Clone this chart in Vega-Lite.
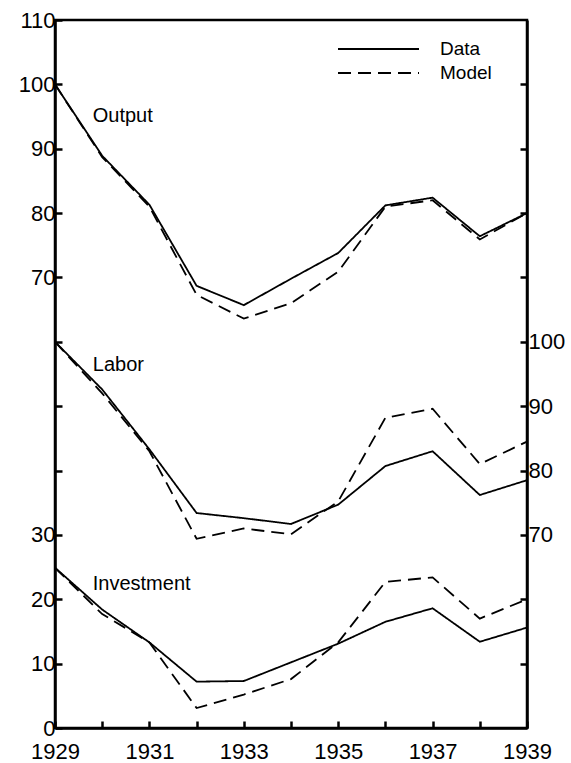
{
  "$schema": "https://vega.github.io/schema/vega-lite/v6.json",
  "autosize": {"type": "none"},
  "padding": {"left": 55, "top": 20, "right": 44, "bottom": 35},
  "width": 472,
  "height": 708,
  "background": "white",
  "config": {
    "view": {"stroke": "black", "strokeWidth": 2.5},
    "font": "Liberation Sans",
    "axis": {
      "grid": false,
      "domainColor": "black",
      "domainWidth": 2.5,
      "tickColor": "black",
      "tickWidth": 2.5,
      "tickSize": -7,
      "labelColor": "black",
      "labelFont": "Liberation Sans",
      "labelFontSize": 22,
      "title": null
    }
  },
  "datasets": {
    "series": [
      {"series": "Output", "type": "Data", "year": 1929, "value": 100},
      {"series": "Output", "type": "Data", "year": 1930, "value": 88.9},
      {"series": "Output", "type": "Data", "year": 1931, "value": 81.3},
      {"series": "Output", "type": "Data", "year": 1932, "value": 68.7},
      {"series": "Output", "type": "Data", "year": 1933, "value": 65.7},
      {"series": "Output", "type": "Data", "year": 1934, "value": 69.8},
      {"series": "Output", "type": "Data", "year": 1935, "value": 73.8},
      {"series": "Output", "type": "Data", "year": 1936, "value": 81.2},
      {"series": "Output", "type": "Data", "year": 1937, "value": 82.4},
      {"series": "Output", "type": "Data", "year": 1938, "value": 76.4},
      {"series": "Output", "type": "Data", "year": 1939, "value": 80.0},
      {"series": "Output", "type": "Model", "year": 1929, "value": 100},
      {"series": "Output", "type": "Model", "year": 1930, "value": 88.7},
      {"series": "Output", "type": "Model", "year": 1931, "value": 81.0},
      {"series": "Output", "type": "Model", "year": 1932, "value": 67.3},
      {"series": "Output", "type": "Model", "year": 1933, "value": 63.6},
      {"series": "Output", "type": "Model", "year": 1934, "value": 66.0},
      {"series": "Output", "type": "Model", "year": 1935, "value": 70.9},
      {"series": "Output", "type": "Model", "year": 1936, "value": 81.0},
      {"series": "Output", "type": "Model", "year": 1937, "value": 82.0},
      {"series": "Output", "type": "Model", "year": 1938, "value": 75.9},
      {"series": "Output", "type": "Model", "year": 1939, "value": 80.0},
      {"series": "Labor", "type": "Data", "year": 1929, "value": 100},
      {"series": "Labor", "type": "Data", "year": 1930, "value": 92.6},
      {"series": "Labor", "type": "Data", "year": 1931, "value": 83.3},
      {"series": "Labor", "type": "Data", "year": 1932, "value": 73.4},
      {"series": "Labor", "type": "Data", "year": 1933, "value": 72.6},
      {"series": "Labor", "type": "Data", "year": 1934, "value": 71.7},
      {"series": "Labor", "type": "Data", "year": 1935, "value": 74.7},
      {"series": "Labor", "type": "Data", "year": 1936, "value": 80.7},
      {"series": "Labor", "type": "Data", "year": 1937, "value": 83.0},
      {"series": "Labor", "type": "Data", "year": 1938, "value": 76.2},
      {"series": "Labor", "type": "Data", "year": 1939, "value": 78.5},
      {"series": "Labor", "type": "Model", "year": 1929, "value": 100},
      {"series": "Labor", "type": "Model", "year": 1930, "value": 92.0},
      {"series": "Labor", "type": "Model", "year": 1931, "value": 83.0},
      {"series": "Labor", "type": "Model", "year": 1932, "value": 69.4},
      {"series": "Labor", "type": "Model", "year": 1933, "value": 71.0},
      {"series": "Labor", "type": "Model", "year": 1934, "value": 70.1},
      {"series": "Labor", "type": "Model", "year": 1935, "value": 75.2},
      {"series": "Labor", "type": "Model", "year": 1936, "value": 88.2},
      {"series": "Labor", "type": "Model", "year": 1937, "value": 89.6},
      {"series": "Labor", "type": "Model", "year": 1938, "value": 81.0},
      {"series": "Labor", "type": "Model", "year": 1939, "value": 84.5},
      {"series": "Investment", "type": "Data", "year": 1929, "value": 24.9},
      {"series": "Investment", "type": "Data", "year": 1930, "value": 18.4},
      {"series": "Investment", "type": "Data", "year": 1931, "value": 13.3},
      {"series": "Investment", "type": "Data", "year": 1932, "value": 7.2},
      {"series": "Investment", "type": "Data", "year": 1933, "value": 7.3},
      {"series": "Investment", "type": "Data", "year": 1934, "value": 10.2},
      {"series": "Investment", "type": "Data", "year": 1935, "value": 13.1},
      {"series": "Investment", "type": "Data", "year": 1936, "value": 16.5},
      {"series": "Investment", "type": "Data", "year": 1937, "value": 18.6},
      {"series": "Investment", "type": "Data", "year": 1938, "value": 13.4},
      {"series": "Investment", "type": "Data", "year": 1939, "value": 15.6},
      {"series": "Investment", "type": "Model", "year": 1929, "value": 24.9},
      {"series": "Investment", "type": "Model", "year": 1930, "value": 17.7},
      {"series": "Investment", "type": "Model", "year": 1931, "value": 13.3},
      {"series": "Investment", "type": "Model", "year": 1932, "value": 3.1},
      {"series": "Investment", "type": "Model", "year": 1933, "value": 5.2},
      {"series": "Investment", "type": "Model", "year": 1934, "value": 7.6},
      {"series": "Investment", "type": "Model", "year": 1935, "value": 13.3},
      {"series": "Investment", "type": "Model", "year": 1936, "value": 22.7},
      {"series": "Investment", "type": "Model", "year": 1937, "value": 23.4},
      {"series": "Investment", "type": "Model", "year": 1938, "value": 17.0},
      {"series": "Investment", "type": "Model", "year": 1939, "value": 20.0}
    ],
    "labels": [
      {"label": "Output", "year": 1929.8, "value": 94.1},
      {"label": "Labor", "year": 1929.8, "value": 95.4},
      {"label": "Investment", "year": 1929.8, "value": 21.5}
    ]
  },
  "encoding": {
    "x": {
      "field": "year",
      "type": "quantitative",
      "scale": {"domain": [1929, 1939], "nice": false, "zero": false},
      "axis": {
        "values": [1929, 1930, 1931, 1932, 1933, 1934, 1935, 1936, 1937, 1938, 1939],
        "format": "d",
        "labelExpr": "datum.value % 2 == 1 ? datum.label : ''",
        "labelFlush": false,
        "labelPadding": 20,
        "labelOverlap": false
      }
    }
  },
  "layer": [
    {
      "encoding": {
        "y": {
          "field": "value",
          "type": "quantitative",
          "scale": {"domain": [0, 110], "nice": false, "zero": false},
          "axis": {
            "orient": "left",
            "values": [0, 10, 20, 30, 40, 50, 60, 70, 80, 90, 100, 110],
            "labelExpr": "(datum.value >= 40 && datum.value <= 60) ? '' : datum.label",
            "labelPadding": 7,
            "labelOverlap": false
          }
        }
      },
      "layer": [
        {
          "data": {"name": "series"},
          "transform": [{"filter": "datum.series != 'Labor'"}],
          "mark": {"type": "line", "color": "black", "strokeWidth": 1.8},
          "encoding": {
            "detail": {"field": "series"},
            "strokeDash": {
              "field": "type",
              "type": "nominal",
              "scale": {"domain": ["Data", "Model"], "range": [[1, 0], [13, 7]]},
              "legend": {
                "orient": "none",
                "legendX": 282,
                "legendY": 19,
                "padding": 0,
                "title": null,
                "symbolType": "stroke",
                "symbolSize": 6561,
                "symbolStrokeColor": "black",
                "symbolStrokeWidth": 1.8,
                "clipHeight": 20,
                "rowPadding": 4,
                "labelFont": "Liberation Sans",
                "labelFontSize": 19,
                "labelColor": "black",
                "labelOffset": 20
              }
            }
          }
        },
        {
          "data": {"name": "labels"},
          "transform": [{"filter": "datum.label != 'Labor'"}],
          "mark": {"type": "text", "align": "left", "baseline": "alphabetic", "fontSize": 20, "color": "black", "font": "Liberation Sans"},
          "encoding": {"text": {"field": "label"}}
        }
      ]
    },
    {
      "encoding": {
        "y": {
          "field": "value",
          "type": "quantitative",
          "scale": {"domain": [40, 150], "nice": false, "zero": false},
          "axis": {
            "orient": "right",
            "values": [50, 60, 70, 80, 90, 100, 110, 120, 130, 140],
            "labelExpr": "(datum.value >= 70 && datum.value <= 100) ? datum.label : ''",
            "labelPadding": 8,
            "labelOverlap": false
          }
        }
      },
      "layer": [
        {
          "data": {"name": "series"},
          "transform": [{"filter": "datum.series == 'Labor'"}],
          "mark": {"type": "line", "color": "black", "strokeWidth": 1.8},
          "encoding": {
            "strokeDash": {
              "field": "type",
              "type": "nominal",
              "scale": {"domain": ["Data", "Model"], "range": [[1, 0], [13, 7]]}
            }
          }
        },
        {
          "data": {"name": "labels"},
          "transform": [{"filter": "datum.label == 'Labor'"}],
          "mark": {"type": "text", "align": "left", "baseline": "alphabetic", "fontSize": 20, "color": "black", "font": "Liberation Sans"},
          "encoding": {"text": {"field": "label"}}
        }
      ]
    }
  ],
  "resolve": {"scale": {"y": "independent", "strokeDash": "shared"}, "axis": {"y": "independent"}}
}
